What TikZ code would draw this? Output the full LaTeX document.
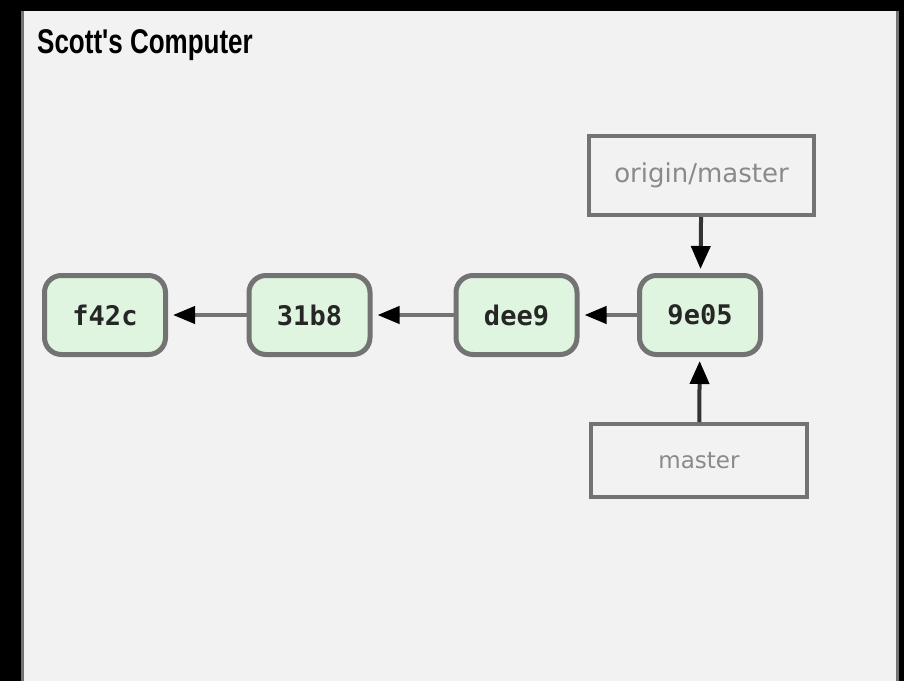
\documentclass[tikz,border=0pt]{standalone}
\usepackage{fontspec}
\setmainfont{Liberation Sans}
\newfontfamily\hashfont{DejaVu Sans Mono}
\newfontfamily\labelfont{DejaVu Sans}
\usepackage{tikz}
\usetikzlibrary{arrows.meta}
\usetikzlibrary{positioning}

\definecolor{panelgray}{HTML}{F2F2F2}
\definecolor{edgegray}{HTML}{737373}
\definecolor{commitgreen}{HTML}{DFF5DF}
\definecolor{textgray}{HTML}{8A8A8A}

\begin{document}
\begin{tikzpicture}[x=1pt, y=-1pt,
    commit/.style={draw=edgegray, line width=5pt, fill=commitgreen, rounded corners=17pt,
      minimum width=121pt, minimum height=79pt, inner sep=0pt, text=black!85,
      font=\hashfont\bfseries\fontsize{27}{30}\selectfont},
    branch/.style={draw=edgegray, line width=4pt, fill=panelgray, inner sep=0pt,
      text=textgray, font=\labelfont\fontsize{23}{26}\selectfont},
    parent/.style={draw=edgegray, line width=4pt, shorten >=5pt,
      -{Triangle[length=22pt, width=17pt, color=black]}},
    pointer/.style={draw=black!80, line width=4pt, shorten >=4pt,
      -{Triangle[length=23pt, width=19pt, color=black]}}]
  \fill[black] (0, 0) rectangle (904, 681);
  \fill[panelgray] (21, 11) rectangle (899, 681);
  \draw[edgegray, line width=3pt] (22.5, 11) -- (22.5, 681);
  \draw[edgegray, line width=3pt] (897.5, 11) -- (897.5, 681);

  \node[anchor=base west, inner sep=0pt, font=\bfseries\fontsize{26}{30}\selectfont] (title) at (37, 53)
    {\scalebox{1}[1.32]{Scott\textquotesingle s Computer}};

  \node[commit] (f42c) at (105, 315) {f42c};
  \node[commit] (31b8) at (309.5, 315) {31b8};
  \node[commit] (dee9) at (516.5, 315) {dee9};
  \node[commit] (9e05) at (700, 315) {9e05};

  \node[branch, minimum width=225pt, minimum height=79pt, font=\labelfont\fontsize{26}{28}\selectfont]
    (origin) at (701.5, 175.5) {origin/master};
  \node[branch, minimum width=216pt, minimum height=73pt] (master) at (699, 460.5) {master};

  \draw[parent] (31b8) -- (f42c);
  \draw[parent] (dee9) -- (31b8);
  \draw[parent] (9e05) -- (dee9);

  \draw[pointer] (origin) -- (9e05);
  \draw[pointer] (master) -- (9e05);
\end{tikzpicture}
\end{document}
